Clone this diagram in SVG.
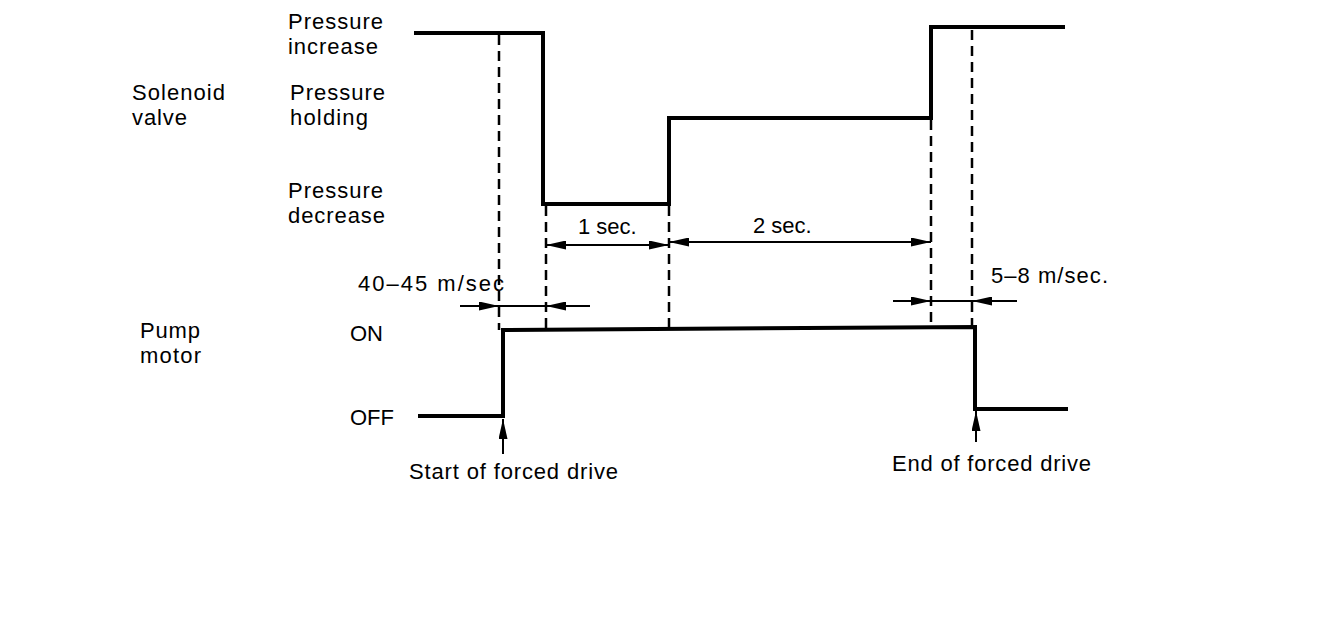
<svg xmlns="http://www.w3.org/2000/svg" width="1328" height="622" viewBox="0 0 1328 622">
<style>
text{font-family:"Liberation Sans",Arial,sans-serif;font-size:22px;fill:#000}
.sig{fill:none;stroke:#000;stroke-width:4;stroke-linejoin:miter}
.dash{fill:none;stroke:#000;stroke-width:2.5;stroke-dasharray:10 6}
.dim{fill:none;stroke:#000;stroke-width:2}
</style>
<defs>
<marker id="ah" viewBox="0 0 20 9" refX="20" refY="4.5" markerWidth="20" markerHeight="9" markerUnits="userSpaceOnUse" orient="auto-start-reverse">
<path d="M0,0 L20,4.5 L0,9 z" fill="#000"/>
</marker>
</defs>
<rect width="1328" height="622" fill="#fff"/>
<g id="labels">
<text x="288" y="29" textLength="95">Pressure</text>
<text x="288" y="54" textLength="90">increase</text>
<text x="132" y="100" textLength="93">Solenoid</text>
<text x="132" y="125" textLength="55">valve</text>
<text x="290" y="100" textLength="95">Pressure</text>
<text x="290" y="125" textLength="78">holding</text>
<text x="288" y="198" textLength="95">Pressure</text>
<text x="288" y="223" textLength="97">decrease</text>
<text x="140" y="338" textLength="60">Pump</text>
<text x="140" y="363" textLength="61">motor</text>
<text x="350" y="341">ON</text>
<text x="350" y="425">OFF</text>
</g>
<g id="solenoid-signal">
<path class="sig" d="M414,33 L543,33 L543,204 L669,204 L669,118 L931,118 L931,27 L1065,27"/>
</g>
<g id="pump-signal">
<path class="sig" d="M418,416 L503,416 L503,330 L975,327 L975,409 L1068,409"/>
</g>
<g id="connectors">
<path class="dash" d="M499,35 V330"/>
<path class="dash" d="M546,206 V329"/>
<path class="dash" d="M669,206 V329"/>
<path class="dash" d="M931,120 V328"/>
<path class="dash" d="M972,30 V327"/>
<path class="dim" d="M546,245 H669" marker-start="url(#ah)" marker-end="url(#ah)"/>
<path class="dim" d="M669,242 H931" marker-start="url(#ah)" marker-end="url(#ah)"/>
<path class="dim" d="M460,306 H499" marker-end="url(#ah)"/>
<path class="dim" d="M499,306 H546"/>
<path class="dim" d="M590,306 H546" marker-end="url(#ah)"/>
<path class="dim" d="M893,301 H931" marker-end="url(#ah)"/>
<path class="dim" d="M931,301 H972"/>
<path class="dim" d="M1017,301 H972" marker-end="url(#ah)"/>
<path class="dim" d="M503,454 V419" marker-end="url(#ah)"/>
<path class="dim" d="M976,442 V411" marker-end="url(#ah)"/>
</g>
<g id="annotations">
<text x="578" y="234">1 sec.</text>
<text x="753" y="233">2 sec.</text>
<text x="358" y="291" textLength="146">40–45 m/sec</text>
<text x="991" y="283" textLength="117">5–8 m/sec.</text>
<text x="409" y="479" textLength="209">Start of forced drive</text>
<text x="892" y="471" textLength="199">End of forced drive</text>
</g>
</svg>
